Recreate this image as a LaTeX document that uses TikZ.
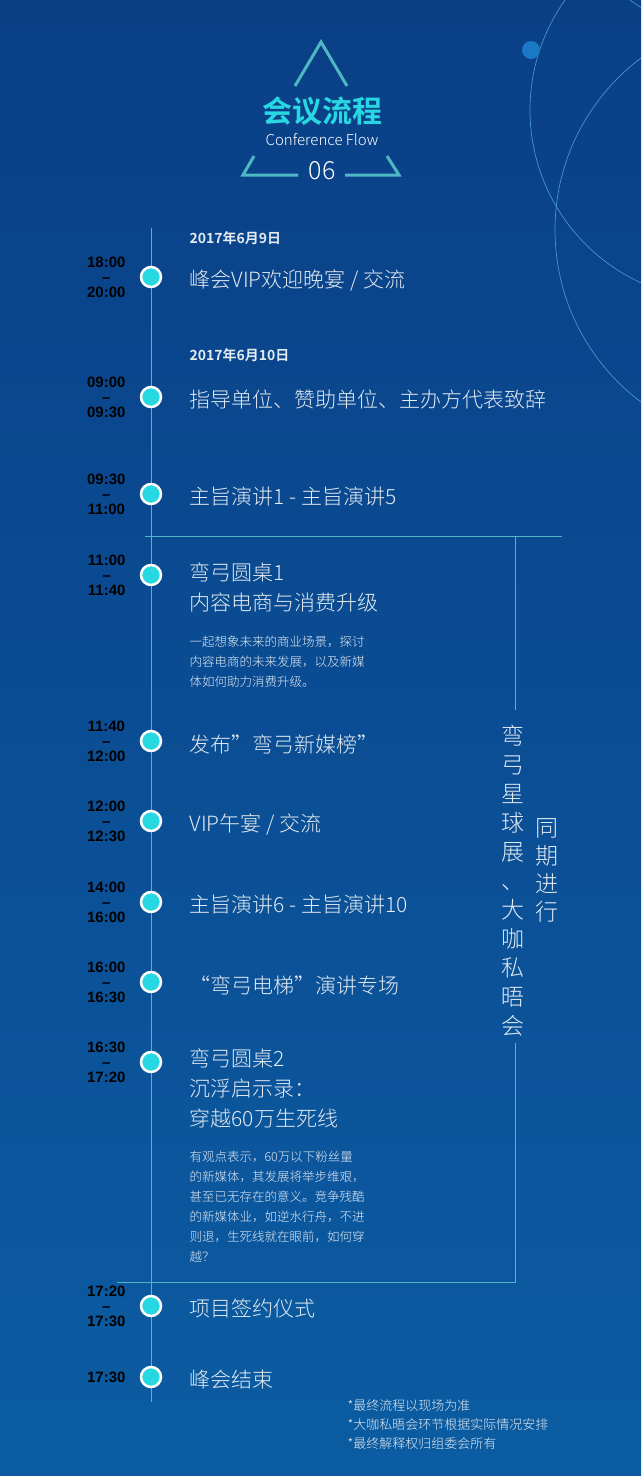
\documentclass[tikz,border=0pt]{standalone}
\usepackage{fontspec}
\setmainfont{Liberation Sans}
\newfontfamily\cjk{Noto Sans CJK SC Light}
\newfontfamily\cjkb{Noto Sans CJK SC Bold}
\definecolor{bgtop}{HTML}{0A3F86}
\definecolor{bgbot}{HTML}{0B5CA2}
\definecolor{cyanT}{HTML}{27D8E2}
\definecolor{teal}{HTML}{4FB7C9}
\definecolor{tri}{HTML}{4DB8C4}
\definecolor{txt}{HTML}{E2EAF2}
\definecolor{orb}{HTML}{1A78C4}
\tikzset{
  timelbl/.style={anchor=east,font=\fontsize{15}{15}\selectfont\bfseries,text=black,align=center},
  ttl/.style={anchor=west,font=\cjk\fontsize{21}{30}\selectfont,text=txt,align=left},
  desc/.style={anchor=north west,font=\cjk\fontsize{12.5}{20}\selectfont,text=txt,align=left},
  datelbl/.style={anchor=west,font=\cjkb\fontsize{14}{16}\selectfont,text=txt},
  dot/.style={circle,fill=cyanT,draw=white,line width=2.5pt,minimum size=20pt,inner sep=0},
  sep/.style={draw=teal,line width=0.9pt},
}
\begin{document}
\begin{tikzpicture}[x=1pt,y=-1pt]
\shade[top color=bgtop,bottom color=bgbot] (0,0) rectangle (641,1476);
\useasboundingbox (0,0) rectangle (641,1476);
\begin{scope}
\clip (0,0) rectangle (641,1476);
\draw[orb!80,line width=0.7pt] (720,110) circle (190);
\draw[orb!80,line width=0.7pt] (770,230) circle (215);
\draw[orb!80,line width=0.7pt] (720,-120) circle (150);
\end{scope}
\fill[orb] (531,50) circle (9);
% triangle emblem
\draw[tri,line width=3pt] (295,86) -- (321,42) -- (347,86);
\draw[tri,line width=3pt] (254,156) -- (243,175) -- (298,175);
\draw[tri,line width=3pt] (387,156) -- (399,175) -- (345,175);
\node (title) at (322,111) {\cjkb\fontsize{30}{32}\selectfont\color{cyanT}会议流程};
\node (sub) at (322,140) {\cjk\fontsize{15}{17}\selectfont\color{white}Conference Flow};
\node (num) at (322,171) {\cjk\fontsize{25}{27}\selectfont\color{white}06};
% timeline
\coordinate (lt) at (151,228);
\coordinate (lb) at (151,1402);
\draw[teal,line width=0.9pt] (lt) -- (lb);
% separators
\coordinate (h1a) at (145,536); \coordinate (h1b) at (562,536);
\coordinate (v1a) at (515,536); \coordinate (v1b) at (515,710);
\coordinate (v2a) at (515,1043); \coordinate (v2b) at (515,1282);
\coordinate (h2a) at (117,1282);
\draw[sep] (h1a) -- (h1b);
\draw[sep] (v1a) -- (v1b);
\draw[sep] (v2a) -- (v2b) -- (h2a);
% dates
\node[datelbl] (d1) at (186,238) {2017年6月9日};
\node[datelbl] (d2) at (186,355) {2017年6月10日};
% items
\foreach \y/\a/\b/\t [count=\i] in {
 277/18:00/20:00/{峰会VIP欢迎晚宴 / 交流},
 397/09:00/09:30/{指导单位、赞助单位、主办方代表致辞},
 494/09:30/11:00/{主旨演讲1 - 主旨演讲5},
 741/11:40/12:00/{发布”弯弓新媒榜”},
 821/12:00/12:30/{VIP午宴 / 交流},
 902/14:00/16:00/{主旨演讲6 - 主旨演讲10},
 982/16:00/16:30/{“弯弓电梯”演讲专场},
 1306/17:20/17:30/{项目签约仪式}}{
  \node[dot] (p\i) at (151,\y) {};
  \node[timelbl] (tm\i) at (129,\y) {\a\\–\\\b};
  \node[ttl] (t\i) at (186,\y+3) {\t};
}
\node[dot] (q1) at (151,575) {};
\node[timelbl] (qt1) at (129,575) {11:00\\–\\11:40};
\node[ttl,anchor=north west] (qx1) at (186,559) {弯弓圆桌1\\内容电商与消费升级};
\node[desc] (qd1) at (186,632) {一起想象未来的商业场景，探讨\\内容电商的未来发展，以及新媒\\体如何助力消费升级。};
\node[dot] (q2) at (151,1062) {};
\node[timelbl] (qt2) at (129,1062) {16:30\\–\\17:20};
\node[ttl,anchor=north west] (qx2) at (186,1045) {弯弓圆桌2\\沉浮启示录：\\穿越60万生死线};
\node[desc] (qd2) at (186,1148) {有观点表示，60万以下粉丝量\\的新媒体，其发展将举步维艰，\\甚至已无存在的意义。竞争残酷\\的新媒体业，如逆水行舟，不进\\则退，生死线就在眼前，如何穿\\越？};
\node[dot] (q3) at (151,1377) {};
\node[timelbl] (qt3) at (129,1377) {17:30};
\node[ttl] (qx3) at (186,1380) {峰会结束};
% vertical texts
\node[font=\cjk\fontsize{23}{29}\selectfont,text=txt,align=center,anchor=north] (vt1) at (513,722)
 {弯\\弓\\星\\球\\展\\、\\大\\咖\\私\\晤\\会};
\node[font=\cjk\fontsize{23}{28}\selectfont,text=txt,align=center,anchor=north] (vt2) at (547,815)
 {同\\期\\进\\行};
% footnotes
\node[anchor=north west,font=\cjk\fontsize{13}{19}\selectfont,text=txt,align=left] (fn) at (344,1396)
 {*最终流程以现场为准\\*大咖私晤会环节根据实际情况安排\\*最终解释权归组委会所有};
\end{tikzpicture}
\end{document}
